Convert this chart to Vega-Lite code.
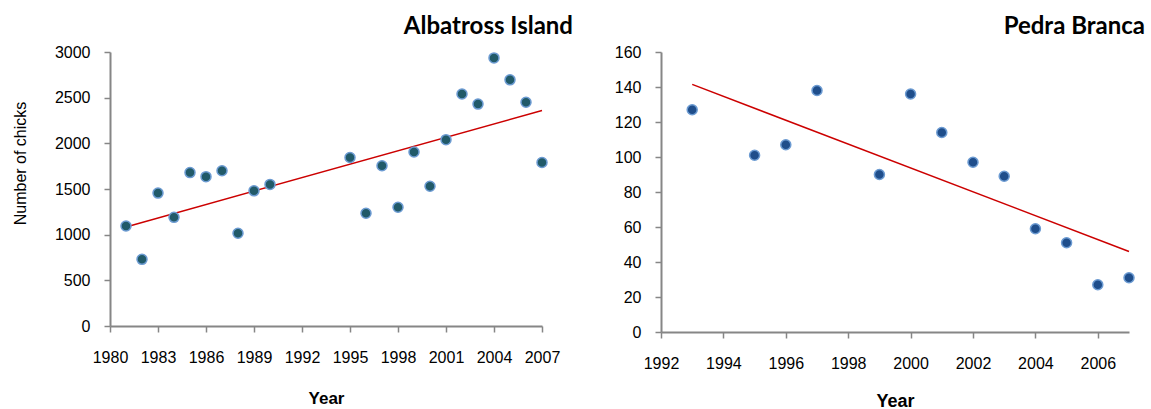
{
  "$schema": "https://vega.github.io/schema/vega-lite/v6.json",
  "autosize": {"type": "pad"},
  "padding": {"left": 11, "top": 15, "right": 5, "bottom": 5},
  "background": "white",
  "spacing": 119,
  "bounds": "flush",
  "config": {
    "view": {"stroke": null},
    "axis": {
      "grid": false,
      "domainColor": "#868686",
      "domainWidth": 2,
      "tickColor": "#868686",
      "tickWidth": 1.5,
      "tickSize": 6,
      "labelFont": "Liberation Sans",
      "labelFontSize": 16,
      "labelColor": "#000000",
      "titleColor": "#000000",
      "labelOverlap": false,
      "labelFlush": false
    }
  },
  "datasets": {
    "albatross": [
      {"year": 1981, "chicks": 1095}, {"year": 1982, "chicks": 730}, {"year": 1983, "chicks": 1455},
      {"year": 1984, "chicks": 1190}, {"year": 1985, "chicks": 1680}, {"year": 1986, "chicks": 1635},
      {"year": 1987, "chicks": 1700}, {"year": 1988, "chicks": 1015}, {"year": 1989, "chicks": 1480},
      {"year": 1990, "chicks": 1550}, {"year": 1995, "chicks": 1845}, {"year": 1996, "chicks": 1235},
      {"year": 1997, "chicks": 1755}, {"year": 1998, "chicks": 1300}, {"year": 1999, "chicks": 1905},
      {"year": 2000, "chicks": 1530}, {"year": 2001, "chicks": 2040}, {"year": 2002, "chicks": 2540},
      {"year": 2003, "chicks": 2430}, {"year": 2004, "chicks": 2935}, {"year": 2005, "chicks": 2695},
      {"year": 2006, "chicks": 2450}, {"year": 2007, "chicks": 1790}
    ],
    "albatross_trend": [{"year": 1981, "chicks": 1085}, {"year": 2007, "chicks": 2360}],
    "pedra": [
      {"year": 1993, "chicks": 127}, {"year": 1995, "chicks": 101}, {"year": 1996, "chicks": 107},
      {"year": 1997, "chicks": 138}, {"year": 1999, "chicks": 90}, {"year": 2000, "chicks": 136},
      {"year": 2001, "chicks": 114}, {"year": 2002, "chicks": 97}, {"year": 2003, "chicks": 89},
      {"year": 2004, "chicks": 59}, {"year": 2005, "chicks": 51}, {"year": 2006, "chicks": 27},
      {"year": 2007, "chicks": 31}
    ],
    "pedra_trend": [{"year": 1993, "chicks": 141.5}, {"year": 2007, "chicks": 46}]
  },
  "hconcat": [
    {
      "width": 432,
      "height": 274,
      "title": {"text": "Albatross Island", "anchor": "end", "frame": "group", "dx": 31, "dy": 24, "offset": 10, "baseline": "alphabetic", "font": "Lato", "fontWeight": "bold", "fontSize": 24, "color": "#000000"},
      "encoding": {
        "x": {"field": "year", "type": "quantitative", "scale": {"domain": [1980, 2007], "nice": false, "zero": false},
          "axis": {"values": [1980, 1983, 1986, 1989, 1992, 1995, 1998, 2001, 2004, 2007], "format": "d", "title": "Year", "labelPadding": 17, "labelOverlap": false, "titleFont": "Liberation Sans", "titleFontWeight": "bold", "titleFontSize": 17, "titlePadding": 25}},
        "y": {"field": "chicks", "type": "quantitative", "scale": {"domain": [0, 3000], "nice": false},
          "axis": {"values": [0, 500, 1000, 1500, 2000, 2500, 3000], "format": "d", "labelOverlap": false, "title": "Number of chicks", "titleFont": "Liberation Sans", "titleFontSize": 16, "titleFontWeight": "normal", "labelPadding": 14, "titleX": -85, "titleY": 111, "titleBaseline": "alphabetic"}}
      },
      "layer": [
        {
          "data": {"name": "albatross_trend"},
          "mark": {"type": "line", "color": "#CC0000", "strokeWidth": 1.5}
        },
        {
          "data": {"name": "albatross"},
          "mark": {"type": "circle", "size": 100, "fill": "#215A69", "stroke": "#6C9BD2", "strokeWidth": 1.5, "opacity": 1}
        }
      ]
    },
    {
      "width": 468,
      "height": 280,
      "title": {"text": "Pedra Branca", "anchor": "end", "frame": "group", "dx": 16, "dy": 24, "offset": 10, "baseline": "alphabetic", "font": "Lato", "fontWeight": "bold", "fontSize": 24, "color": "#000000"},
      "encoding": {
        "x": {"field": "year", "type": "quantitative", "scale": {"domain": [1992, 2007], "nice": false, "zero": false},
          "axis": {"values": [1992, 1994, 1996, 1998, 2000, 2002, 2004, 2006], "format": "d", "title": "Year", "labelPadding": 17, "labelOverlap": false, "titleFont": "Liberation Sans", "titleFontWeight": "bold", "titleFontSize": 18, "titlePadding": 21}},
        "y": {"field": "chicks", "type": "quantitative", "scale": {"domain": [0, 160], "nice": false},
          "axis": {"values": [0, 20, 40, 60, 80, 100, 120, 140, 160], "format": "d", "labelOverlap": false, "title": null, "labelPadding": 14}}
      },
      "layer": [
        {
          "data": {"name": "pedra_trend"},
          "mark": {"type": "line", "color": "#CC0000", "strokeWidth": 1.5}
        },
        {
          "data": {"name": "pedra"},
          "mark": {"type": "circle", "size": 100, "fill": "#1F4E8B", "stroke": "#6C9BD2", "strokeWidth": 1.5, "opacity": 1}
        }
      ]
    }
  ]
}
